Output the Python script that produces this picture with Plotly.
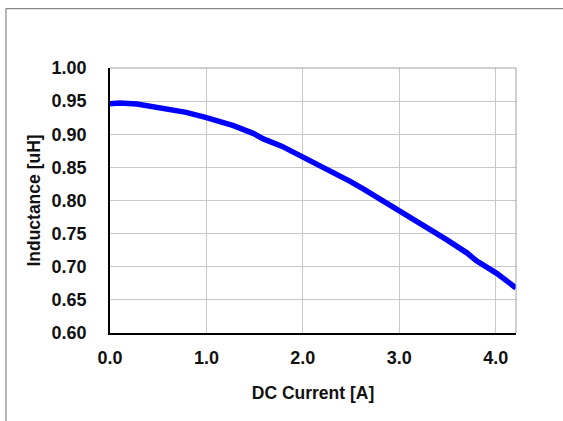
import plotly.graph_objects as go

current_a = [0.0, 0.10, 0.28, 0.41, 0.62, 0.79, 1.00, 1.28, 1.49, 1.59, 1.78, 2.00, 2.14, 2.31,
             2.49, 2.63, 2.87, 3.01, 3.21, 3.49, 3.70, 3.80, 4.01, 4.21]
inductance_uh = [0.946, 0.947, 0.9455, 0.9425, 0.937, 0.933, 0.925, 0.913, 0.901, 0.893, 0.882,
                 0.866, 0.856, 0.842, 0.829, 0.817, 0.796, 0.784, 0.766, 0.741, 0.721, 0.709,
                 0.690, 0.668]
x_ticks = [0, 1, 2, 3, 4]
y_ticks = [0.60, 0.65, 0.70, 0.75, 0.80, 0.85, 0.90, 0.95, 1.00]

W, H = 563, 421
L, R, T, B = 110, 516, 67.5, 333
pw, ph = R - L, B - T

fig = go.Figure()
fig.add_trace(go.Scatter(x=current_a, y=inductance_uh, mode="lines",
                         line=dict(color="#0000FF", width=5.5), showlegend=False))

font = dict(family="Liberation Sans, Arial", size=18, color="#111")
title_font = dict(family="Liberation Sans, Arial", size=17.5, color="#111")
fig.update_layout(
    width=W, height=H,
    margin=dict(l=L, r=W - R, t=T, b=H - B),
    paper_bgcolor="white", plot_bgcolor="white",
    font=font,
    xaxis=dict(range=[0, 4.21], tickvals=x_ticks, ticktext=[f"<b>{v:.1f}</b>" for v in x_ticks],
               showgrid=True, gridcolor="#c8c8c8", gridwidth=1,
               showline=True, linecolor="black", linewidth=1.5, zeroline=False,
               ticks="", ticklabelstandoff=8,
               title=dict(text="<b>DC Current [A]</b>", standoff=19, font=title_font)),
    yaxis=dict(range=[0.6, 1.0], tickvals=y_ticks, ticktext=[f"<b>{v:.2f}</b>" for v in y_ticks],
               showgrid=True, gridcolor="#c8c8c8", gridwidth=1,
               showline=True, linecolor="black", linewidth=1.5, zeroline=False,
               ticks="", ticklabelstandoff=18,
               title=dict(text="<b>Inductance [uH]</b>", standoff=6, font=title_font)),
)

# top/right gray plot border
fig.add_shape(type="line", xref="paper", yref="paper", x0=0, x1=1, y0=1, y1=1,
              line=dict(color="#a0a0a0", width=1))
fig.add_shape(type="line", xref="paper", yref="paper", x0=1, x1=1, y0=0, y1=1,
              line=dict(color="#a0a0a0", width=1))
# outer frame (top and left visible)
fx = (6 - L) / pw
fy = (B - 8) / ph
fig.add_shape(type="line", xref="paper", yref="paper", x0=fx, x1=(W + 10 - L) / pw, y0=fy, y1=fy,
              line=dict(color="#888888", width=1.2))
fig.add_shape(type="line", xref="paper", yref="paper", x0=fx, x1=fx, y0=fy, y1=(B - H - 10) / ph,
              line=dict(color="#888888", width=1.2))

fig.write_html("out.html", config={"displayModeBar": False},
               post_script="document.body.style.margin='0';")
